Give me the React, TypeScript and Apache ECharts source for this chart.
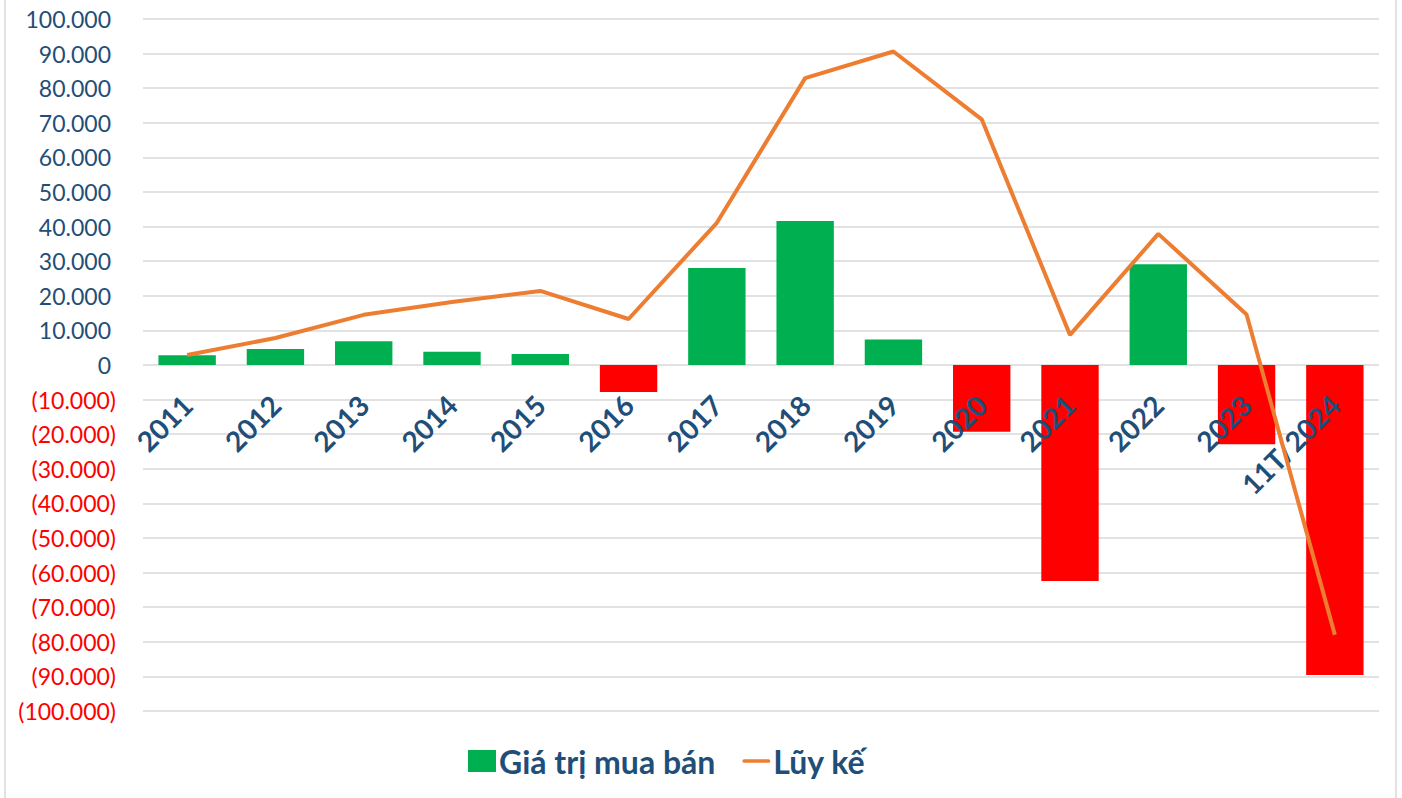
import React, { useEffect, useRef } from "react";
import * as echarts from "echarts";

const categories = ["2011", "2012", "2013", "2014", "2015", "2016", "2017", "2018", "2019", "2020", "2021", "2022", "2023", "11T/2024"];
const tradeValues = [2800, 4600, 6900, 3800, 3200, -7800, 28000, 41600, 7400, -19300, -62400, 29100, -22900, -89600];
const cumulative = [2900, 7800, 14500, 18200, 21400, 13300, 41100, 82900, 90600, 71000, 8700, 37900, 14600, -78000];
const seriesNames = ["Giá trị mua bán", "Lũy kế"];

const GREEN = "#00B050";
const RED = "#FF0000";
const ORANGE = "#ED7D31";
const NAVY = "#1F4E79";

function fmt(v: number): string {
  const s = Math.abs(v).toString().replace(/\B(?=(\d{3})+(?!\d))/g, ".");
  return v < 0 ? "{n|(" + s + ")}" : "{p|" + s + "}";
}

export default function App() {
  const ref = useRef<HTMLDivElement>(null);
  useEffect(() => {
    if (!ref.current) return;
    const chart = echarts.init(ref.current, null, { renderer: "svg" });
    chart.setOption({
      animation: false,
      backgroundColor: "#ffffff",
      grid: { left: 143, right: 23, top: 19, bottom: 87, containLabel: false, outerBoundsMode: "none" },
      legend: {
        bottom: 16,
        left: 463,
        itemGap: 27,
        itemWidth: 28,
        itemHeight: 22,
        symbolKeepAspect: true,
        textStyle: { fontFamily: "Lato", fontWeight: "bold", fontSize: 32, color: NAVY, padding: [0, 0, 0, -2] },
        data: [
          { name: seriesNames[0], icon: "rect", itemStyle: { color: GREEN } },
          { name: seriesNames[1], icon: "path://M2,0 L28,0 A2,2 0 0 1 28,4 L2,4 A2,2 0 0 1 2,0 Z", itemStyle: { color: ORANGE } },
        ],
      },
      xAxis: {
        type: "category",
        data: categories,
        offset: -346,
        z: 10,
        axisLine: { show: false, onZero: false },
        axisTick: { show: false },
        axisLabel: {
          rotate: 45,
          margin: 35,
          interval: 0,
          fontFamily: "Lato",
          fontWeight: "bold",
          fontSize: 28,
          color: NAVY,
        },
      },
      yAxis: {
        type: "value",
        min: -100000,
        max: 100000,
        interval: 10000,
        axisLine: { show: false },
        axisTick: { show: false },
        splitLine: { lineStyle: { color: "#d9d9d9", width: 1.5 } },
        axisLabel: {
          margin: 27,
          formatter: (v: number) => fmt(v),
          rich: {
            p: { fontFamily: "Lato", fontSize: 23, color: NAVY, padding: [0, 5, 0, 0] },
            n: { fontFamily: "Lato", fontSize: 23, color: RED },
          },
        },
      },
      graphic: [
        { type: "line", shape: { x1: 5, y1: 0, x2: 5, y2: 798 }, style: { stroke: "#d9d9d9", lineWidth: 1.5 } },
        { type: "line", shape: { x1: 1396, y1: 0, x2: 1396, y2: 798 }, style: { stroke: "#d9d9d9", lineWidth: 1.5 } },
      ],
      series: [
        {
          name: seriesNames[0],
          type: "bar",
          barCategoryGap: "35%",
          z: 2,
          itemStyle: { color: GREEN },
          data: tradeValues.map((v) => ({ value: v, itemStyle: { color: v < 0 ? RED : GREEN } })),
        },
        {
          name: seriesNames[1],
          type: "line",
          symbol: "none",
          showSymbol: false,
          lineStyle: { color: ORANGE, width: 4 },
          itemStyle: { color: ORANGE },
          data: cumulative,
          z: 20,
        },
      ],
    });
    return () => chart.dispose();
  }, []);
  return <div ref={ref} style={{ position: "fixed", left: 0, top: 0, width: 1402, height: 798 }} />;
}
